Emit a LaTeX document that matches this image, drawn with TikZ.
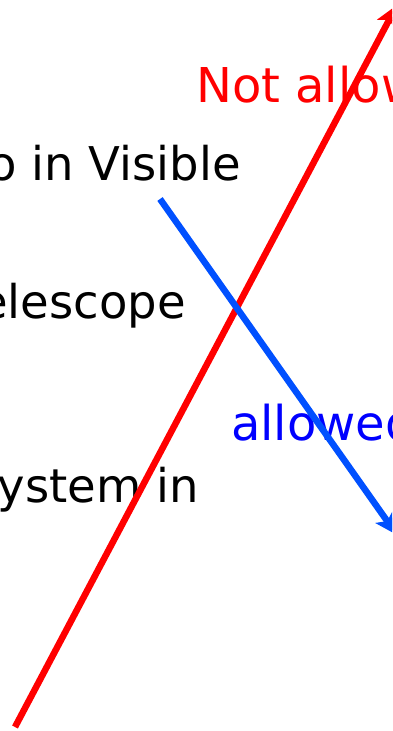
\documentclass[tikz,border=0pt]{standalone}
\usepackage{fontspec}
\setmainfont{DejaVu Sans}
\usetikzlibrary{arrows.meta}
\definecolor{arrred}{HTML}{FF0000}
\definecolor{arrblue}{HTML}{0050FF}
\definecolor{txtblue}{HTML}{0000FF}
\definecolor{txtgreen}{HTML}{008000}
\begin{document}
\begin{tikzpicture}[x=1bp,y=-1bp,
  lbl/.style={inner sep=0pt, font=\fontsize{48bp}{56bp}\selectfont},
  blk/.style={inner sep=0pt, font=\fontsize{46.5bp}{54bp}\selectfont, anchor=base east},
  arr/.style={line width=6.5bp, -{Stealth[length=22bp,width=21bp,inset=5bp]}}]
\useasboundingbox (0,0) rectangle (392,731);
\clip (0,0) rectangle (392,731);
% texts
\node[lbl, text=txtgreen, anchor=base west] (g) at (118,-9) {y};
\node[lbl, text=arrred, anchor=base west] (na) at (196,103) {Not allowed};
\node[blk] (t1) at (241,180) {o in Visible};
\node[blk] (t2) at (186,318) {elescope};
\node[blk] (t3) at (199,502) {ystem in};
\node[lbl, text=txtblue, anchor=base west] (al) at (231,440) {allowed};
% arrows
\coordinate (rs) at (15,727);
\coordinate (re) at (397,5);
\coordinate (bs) at (160,199);
\coordinate (be) at (397,535);
\draw[arr, arrred] (rs) -- (re);
\draw[arr, arrblue] (bs) -- (be);
\end{tikzpicture}
\end{document}
